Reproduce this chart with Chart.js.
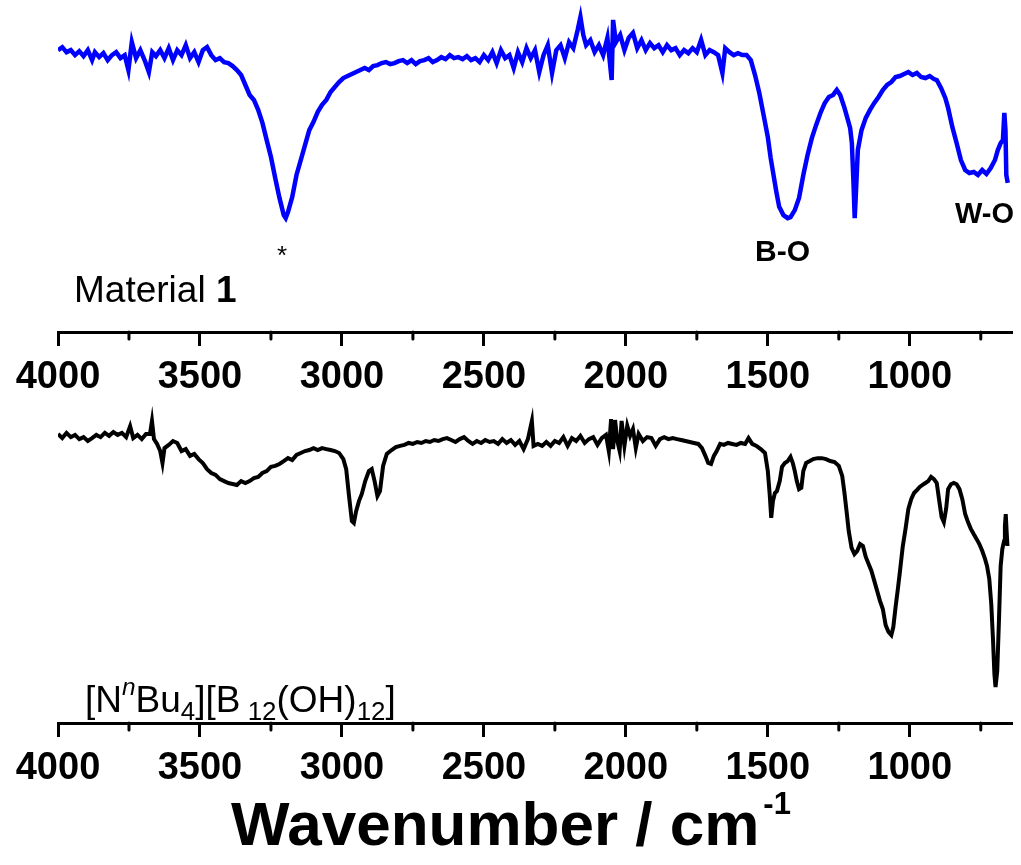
<!DOCTYPE html>
<html>
<head>
<meta charset="utf-8">
<script src="https://cdn.jsdelivr.net/npm/chart.js@4.4.0/dist/chart.umd.min.js"></script>
<style>
  body { margin: 0; background: #fff; }
  #wrap { position: relative; width: 1021px; height: 865px; font-family: "Liberation Sans", Arial, sans-serif; color: #000; }
  canvas { position: absolute; left: 0; }
  .lbl { position: absolute; line-height: 1; white-space: nowrap; }
  .sub { font-size: 0.7em; vertical-align: -0.3em; }
  .sup { font-size: 0.66em; vertical-align: 0.7em; font-style: italic; }
</style>
</head>
<body>
<div id="wrap">
  <canvas id="top" width="1021" height="400" style="top:0"></canvas>
  <canvas id="bot" width="1021" height="465" style="top:400px"></canvas>
  <div class="lbl" style="left:277px;top:242px;font-size:26px">*</div>
  <div class="lbl" style="left:755px;top:236px;font-size:30px;font-weight:bold">B-O</div>
  <div class="lbl" style="left:955px;top:199px;font-size:29px;font-weight:bold">W-O</div>
  <div class="lbl" style="left:74px;top:271px;font-size:37px">Material <b>1</b></div>
  <div class="lbl" style="left:85px;top:675px;font-size:37px">[N<span class="sup">n</span>Bu<span class="sub">4</span>][B<span class="sub">&nbsp;12</span>(OH)<span class="sub">12</span>]</div>
  <div class="lbl" style="left:231px;top:788px;font-size:62px;font-weight:bold">Wavenumber / cm<span style="font-size:0.5em;vertical-align:1em;margin-left:4px">-1</span></div>
</div>
<script>
// wavenumber axis
var majorTicks = [4000, 3500, 3000, 2500, 2000, 1500, 1000];
var minorTicks = [3750, 3250, 2750, 2250, 1750, 1250, 750];

// Material 1 (blue)
var topWn = [4000,3985,3970,3955,3940,3925,3910,3895,3880,3870,3855,3840,3825,3810,3795,3780,3765,3752,3740,3725,3710,3695,3680,3668,3655,3640,3625,3610,3595,3580,3565,3550,3535,3520,3505,3490,3475,3460,3445,3430,3415,3400,3385,3370,3355,3340,3325,3310,3295,3280,3265,3250,3235,3220,3205,3198,3190,3175,3160,3145,3130,3115,3100,3085,3070,3055,3040,3025,3010,2995,2980,2965,2950,2935,2920,2905,2890,2875,2860,2845,2830,2815,2800,2785,2770,2755,2740,2725,2710,2695,2680,2665,2650,2635,2620,2605,2590,2575,2560,2545,2530,2515,2500,2485,2470,2455,2440,2425,2410,2395,2380,2365,2350,2335,2320,2305,2290,2275,2260,2245,2230,2215,2200,2185,2170,2160,2150,2140,2125,2110,2095,2080,2065,2050,2045,2035,2020,2005,1990,1975,1960,1945,1930,1915,1900,1885,1870,1855,1840,1825,1810,1795,1780,1765,1750,1735,1720,1705,1690,1675,1660,1650,1635,1620,1605,1590,1575,1560,1545,1530,1515,1500,1490,1480,1470,1460,1445,1430,1420,1405,1390,1375,1360,1345,1330,1315,1300,1285,1270,1257,1245,1230,1220,1210,1204,1198,1194,1190,1183,1170,1155,1140,1125,1110,1095,1080,1065,1050,1035,1020,1005,990,975,960,945,930,915,905,890,875,865,850,835,820,805,790,775,760,745,730,715,700,690,680,672,667,663,660,655];
var topT = [84.9,85.8,84.3,84.9,83.4,84.6,83.1,84.9,81.9,84.3,82.8,84.0,81.9,83.4,84.3,82.5,83.4,78.9,87.3,82.5,84.9,81.9,78.3,84.3,83.1,84.9,82.5,85.5,81.9,84.9,83.4,86.4,82.5,84.3,81.3,84.9,85.8,83.4,81.9,82.5,81.3,81.0,80.1,78.9,77.4,74.4,71.4,69.9,66.9,63.0,57.8,52.7,46.4,40.4,35.2,34.3,36.1,40.7,47.3,51.8,56.3,60.8,63.3,66.3,68.4,69.9,72.3,73.8,75.3,76.5,77.1,77.7,78.3,78.9,79.5,78.9,80.1,80.4,81.0,81.3,80.7,81.0,81.6,81.9,81.0,81.9,80.7,81.6,81.9,82.5,81.3,81.9,82.8,82.2,83.4,82.5,82.8,82.2,83.1,81.9,82.5,81.3,83.4,81.9,84.3,81.0,84.9,82.5,83.4,79.5,84.3,81.3,85.5,82.5,84.9,78.3,83.4,86.4,78.0,84.9,86.4,82.5,87.3,85.5,90.9,94.9,89.5,86.4,87.9,84.3,86.4,83.4,88.6,75.9,94.0,87.3,89.5,84.9,88.6,90.1,85.5,87.9,84.9,87.0,85.5,86.4,84.3,86.4,84.9,85.5,83.4,84.9,84.0,85.5,84.3,88.0,83.4,84.9,84.3,83.4,78.0,85.5,84.3,83.4,84.0,83.4,83.4,81.9,77.4,72.0,65.4,58.7,52.4,47.3,42.2,37.7,35.2,34.3,34.6,36.7,40.4,47.3,53.3,58.4,62.3,65.9,68.9,70.8,71.4,72.9,71.4,67.5,64.5,61.4,56.9,44.3,34.3,41.3,54.8,60.8,64.5,66.9,69.0,70.8,72.9,74.4,75.3,76.8,77.1,77.7,78.3,77.4,78.0,76.8,76.5,77.1,76.2,75.9,73.5,70.5,67.5,61.7,56.9,51.8,48.8,47.9,48.2,47.3,48.8,47.6,49.4,51.8,54.8,56.9,57.8,66.0,60.8,47.3,44.9];

// [NnBu4][B12(OH)12] (black)
var botWn = [4000,3985,3970,3955,3940,3925,3910,3895,3880,3865,3850,3835,3820,3805,3790,3775,3760,3746,3735,3720,3705,3690,3676,3669,3662,3651,3640,3632,3625,3610,3595,3580,3565,3550,3535,3520,3505,3490,3475,3460,3445,3430,3415,3400,3385,3370,3355,3340,3325,3310,3295,3280,3265,3250,3235,3220,3205,3190,3175,3160,3145,3130,3115,3100,3085,3070,3055,3040,3025,3010,2995,2985,2975,2965,2958,2950,2940,2930,2918,2905,2895,2885,2875,2866,2855,2842,2825,2810,2795,2780,2765,2750,2735,2720,2705,2690,2675,2660,2645,2630,2615,2600,2585,2570,2555,2540,2525,2510,2495,2480,2465,2450,2435,2420,2405,2390,2375,2360,2345,2331,2325,2310,2295,2280,2265,2250,2235,2220,2205,2190,2175,2160,2145,2130,2115,2100,2085,2070,2060,2052,2045,2038,2030,2022,2015,2005,1995,1985,1975,1965,1955,1940,1925,1910,1895,1880,1865,1850,1835,1820,1805,1790,1775,1760,1745,1732,1720,1710,1700,1690,1680,1668,1655,1640,1625,1610,1595,1580,1568,1555,1540,1525,1510,1500,1493,1488,1482,1475,1468,1458,1450,1440,1430,1420,1412,1405,1398,1390,1382,1375,1365,1352,1340,1325,1310,1295,1280,1265,1250,1238,1230,1222,1215,1205,1195,1185,1175,1165,1155,1145,1135,1125,1115,1105,1095,1085,1075,1065,1058,1050,1042,1035,1025,1015,1005,995,985,975,965,955,945,935,925,915,905,897,888,880,872,865,855,845,835,825,815,805,795,785,775,765,755,745,735,728,720,713,707,702,698,692,686,680,674,668,665,662,659,656];
var botT = [89.5,88.2,89.8,88.5,89.2,87.9,88.5,87.3,88.2,89.2,88.5,89.8,88.9,90.1,89.2,89.8,88.5,91.9,88.2,89.2,87.9,89.5,89.5,93.5,87.9,86.4,84.2,80.5,85.1,86.1,87.3,86.7,84.2,84.8,82.7,83.3,81.7,80.5,78.6,77.4,76.8,75.5,74.9,74.3,74.0,73.7,74.9,74.3,74.9,75.8,76.2,77.4,78.0,79.3,79.6,80.2,81.1,82.0,81.4,83.0,83.6,84.2,84.5,85.1,84.5,85.1,84.8,84.5,84.2,83.6,81.7,78.6,70.3,62.5,61.9,65.6,68.7,70.9,74.9,78.0,78.6,74.9,70.3,71.8,79.6,83.3,84.5,85.4,85.8,86.1,86.7,86.4,87.0,86.7,87.3,87.0,87.6,87.3,87.9,88.2,87.6,87.0,87.9,88.5,87.3,86.4,87.3,86.7,87.6,87.0,87.3,86.4,87.9,86.7,87.6,86.1,87.3,84.8,87.9,93.5,85.8,86.4,85.8,87.0,85.8,87.3,86.7,88.5,85.8,88.2,87.3,88.9,86.7,87.9,88.5,86.1,88.2,89.2,84.2,94.1,84.8,93.8,87.3,84.2,93.5,85.8,92.0,88.9,91.0,85.1,89.5,87.3,88.5,88.2,85.8,87.9,88.5,87.9,88.2,87.9,87.6,87.3,87.0,86.7,86.4,85.1,82.7,80.5,80.2,82.7,84.2,86.4,86.1,86.7,86.4,86.1,86.7,86.4,88.2,86.4,85.8,84.8,83.6,78.0,70.3,63.5,68.7,71.2,71.8,74.9,79.3,80.5,81.1,82.4,80.5,78.0,74.9,72.4,72.8,78.0,80.5,81.1,81.7,82.0,82.0,81.7,81.1,80.8,79.6,76.5,71.2,65.0,59.4,54.2,52.3,53.3,55.4,54.8,51.4,49.2,47.1,44.0,40.9,37.8,35.3,30.3,28.2,27.2,29.7,35.9,41.5,46.7,54.5,60.1,66.3,69.3,71.2,72.1,73.1,73.7,74.3,74.9,76.2,75.5,74.3,69.3,63.8,62.2,66.3,72.4,73.9,74.3,73.9,72.4,69.3,64.7,62.2,60.1,58.5,57.0,55.4,53.3,50.8,48.6,44.6,36.8,26.0,15.2,11.1,16.1,31.6,48.6,53.9,56.3,61.0,64.7,59.4,54.8,57.9];

var font = { family: '"Liberation Sans", Arial, sans-serif', size: 38, weight: 'bold' };

var minorTickPlugin = {
  id: 'minorTicks',
  afterDraw: function (chart) {
    var s = chart.scales.x, ctx = chart.ctx;
    ctx.save();
    ctx.strokeStyle = '#000';
    ctx.lineWidth = 3;
    ctx.lineCap = 'round';
    minorTicks.forEach(function (v) {
      var px = s.getPixelForValue(v);
      ctx.beginPath();
      ctx.moveTo(px, s.top);
      ctx.lineTo(px, s.top + 7);
      ctx.stroke();
    });
    ctx.restore();
  }
};

function makeChart(id, wn, vals, color, width, axisHeight) {
  return new Chart(document.getElementById(id), {
    type: 'line',
    data: {
      datasets: [{
        data: wn.map(function (w, i) { return { x: w, y: vals[i] }; }),
        borderColor: color,
        borderWidth: width,
        pointRadius: 0,
        tension: 0
      }]
    },
    options: {
      responsive: false,
      animation: false,
      events: [],
      layout: { padding: { top: 0, left: 58, right: 9, bottom: 0 } },
      plugins: { legend: { display: false }, tooltip: { enabled: false } },
      scales: {
        x: {
          type: 'linear',
          reverse: true,
          min: 640,
          max: 4000,
          afterBuildTicks: function (s) { s.ticks = majorTicks.map(function (v) { return { value: v }; }); },
          afterFit: function (s) { s.height = axisHeight; },
          border: { display: true, width: 3, color: '#000' },
          grid: { drawOnChartArea: false, drawTicks: true, tickLength: 14, tickWidth: 3, tickColor: '#000' },
          ticks: {
            color: '#000',
            font: font,
            padding: 9,
            maxRotation: 0,
            autoSkip: false,
            callback: function (v) { return String(v); }
          }
        },
        y: { display: false, min: 0, max: 100 }
      }
    },
    plugins: [minorTickPlugin]
  });
}

makeChart('top', topWn, topT, '#0000ff', 4.5, 68);
makeChart('bot', botWn, botT, '#000000', 4, 142);
</script>
</body>
</html>
